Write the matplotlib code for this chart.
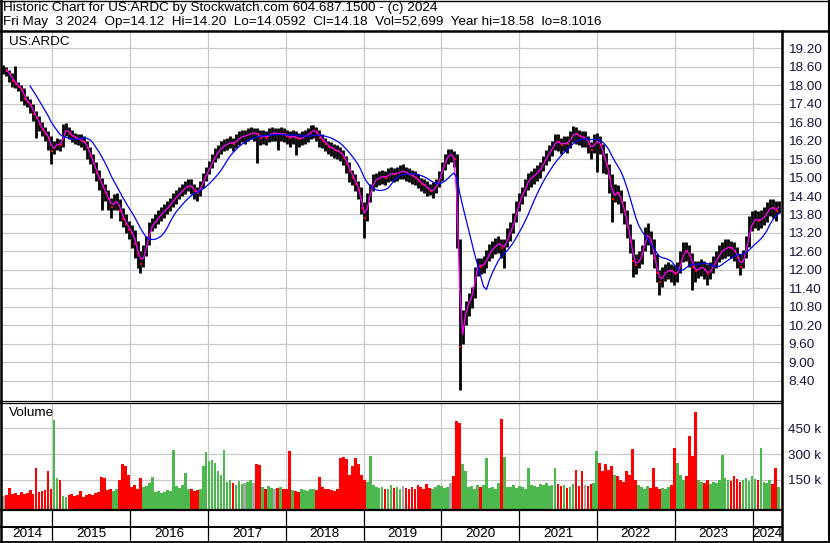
import numpy as np
import pandas as pd
import matplotlib
matplotlib.use("Agg")
import matplotlib.pyplot as plt

# US:ARDC, biweekly bars (about 10 sessions each)
cl = [18.55, 18.45, 18.35, 18.15, 18.05, 17.95, 17.85, 17.55, 17.45, 17.35,
      17.05, 16.95, 16.70, 16.55, 16.40, 16.30, 15.85, 16.05, 16.10, 16.05,
      16.45, 16.60, 16.40, 16.35, 16.30, 16.25, 16.20, 16.15, 15.95, 15.70,
      15.45, 15.15, 14.95, 14.70, 14.50, 14.30, 14.05, 14.20, 14.25, 13.90,
      13.65, 13.50, 13.30, 13.20, 12.85, 12.50, 12.20, 12.55, 12.90, 13.35,
      13.50, 13.60, 13.75, 13.85, 13.95, 14.05, 14.15, 14.30, 14.40, 14.50,
      14.60, 14.70, 14.75, 14.70, 14.55, 14.50, 14.70, 14.95, 15.15, 15.35,
      15.55, 15.75, 15.85, 16.00, 16.05, 16.10, 16.15, 16.10, 16.20, 16.30,
      16.35, 16.35, 16.40, 16.45, 16.45, 16.40, 16.30, 16.35, 16.30, 16.40,
      16.45, 16.45, 16.40, 16.45, 16.40, 16.35, 16.30, 16.35, 16.30, 16.25,
      16.30, 16.35, 16.40, 16.50, 16.55, 16.45, 16.30, 16.20, 16.10, 16.00,
      15.95, 15.90, 15.85, 15.80, 15.65, 15.45, 15.20, 15.00, 14.80, 14.60,
      14.00, 13.70, 14.25, 14.60, 14.90, 14.95, 15.00, 15.05, 15.00, 15.10,
      15.15, 15.10, 15.15, 15.20, 15.20, 15.15, 15.10, 15.05, 15.00, 14.90,
      14.80, 14.75, 14.65, 14.55, 14.60, 14.75, 14.95, 15.30, 15.55, 15.75,
      15.75, 15.60, 13.40, 9.50, 10.30, 10.80, 11.00, 11.20, 11.90, 12.20,
      12.10, 12.20, 12.40, 12.60, 12.70, 12.80, 12.90, 12.70, 12.80, 13.10,
      13.30, 13.60, 14.00, 14.30, 14.50, 14.75, 14.95, 15.00, 15.10, 15.20,
      15.30, 15.50, 15.70, 15.85, 16.00, 16.20, 16.15, 16.05, 16.15, 16.10,
      16.30, 16.45, 16.40, 16.35, 16.30, 16.30, 16.10, 15.90, 16.15, 16.20,
      16.05, 15.70, 15.40, 15.00, 14.30, 14.55, 14.50, 14.20, 13.90, 13.40,
      12.90, 12.30, 12.15, 12.35, 12.50, 13.10, 13.15, 12.90, 12.40, 11.90,
      11.60, 11.85, 11.95, 12.00, 11.95, 11.85, 11.95, 12.30, 12.65, 12.60,
      12.45, 12.10, 11.95, 12.05, 12.10, 12.00, 11.85, 12.00, 12.20, 12.35,
      12.55, 12.65, 12.70, 12.75, 12.70, 12.60, 12.40, 12.10, 12.40, 12.80,
      13.30, 13.60, 13.65, 13.60, 13.65, 13.75, 13.90, 14.05, 14.00, 13.90,
      14.18]

hi = [18.65, 18.60, 18.50, 18.40, 18.62, 18.10, 18.00, 17.90, 17.65, 17.55,
      17.40, 17.15, 17.00, 16.80, 16.65, 16.50, 16.35, 16.20, 16.30, 16.25,
      16.75, 16.76, 16.65, 16.55, 16.45, 16.40, 16.40, 16.35, 16.20, 16.00,
      15.75, 15.50, 15.25, 15.00, 14.80, 14.60, 14.35, 14.45, 14.50, 14.30,
      14.00, 13.80, 13.60, 13.45, 13.30, 12.95, 12.60, 12.80, 13.10, 13.55,
      13.70, 13.80, 13.95, 14.05, 14.15, 14.25, 14.35, 14.50, 14.60, 14.70,
      14.80, 14.90, 14.95, 14.95, 14.80, 14.70, 14.90, 15.15, 15.35, 15.55,
      15.75, 15.95, 16.05, 16.20, 16.25, 16.30, 16.35, 16.30, 16.40, 16.50,
      16.55, 16.55, 16.60, 16.65, 16.62, 16.60, 16.55, 16.55, 16.50, 16.60,
      16.65, 16.62, 16.60, 16.65, 16.60, 16.55, 16.50, 16.55, 16.50, 16.45,
      16.50, 16.55, 16.60, 16.70, 16.72, 16.65, 16.55, 16.40, 16.30, 16.20,
      16.15, 16.10, 16.05, 16.00, 15.90, 15.70, 15.50, 15.25, 15.10, 14.90,
      14.70, 14.20, 14.50, 14.80, 15.10, 15.15, 15.20, 15.25, 15.20, 15.30,
      15.35, 15.30, 15.35, 15.40, 15.45, 15.35, 15.30, 15.25, 15.20, 15.10,
      15.00, 14.95, 14.90, 14.80, 14.85, 14.95, 15.20, 15.50, 15.75, 15.92,
      15.92, 15.85, 15.75, 13.00, 10.70, 11.00, 11.25, 11.45, 12.10, 12.40,
      12.40, 12.45, 12.65, 12.85, 12.95, 13.05, 13.10, 13.00, 13.00, 13.35,
      13.55, 13.85, 14.25, 14.50, 14.70, 14.95, 15.15, 15.20, 15.30, 15.40,
      15.50, 15.70, 15.90, 16.05, 16.20, 16.40, 16.40, 16.30, 16.35, 16.35,
      16.50, 16.66, 16.65, 16.55, 16.50, 16.50, 16.35, 16.15, 16.40, 16.44,
      16.35, 16.10, 15.80, 15.45, 15.10, 14.80, 14.75, 14.60, 14.25, 13.95,
      13.50, 13.00, 12.50, 12.60, 12.80, 13.40, 13.51, 13.25, 13.00, 12.50,
      12.00, 12.10, 12.20, 12.25, 12.20, 12.15, 12.25, 12.60, 12.92, 12.90,
      12.80, 12.55, 12.30, 12.30, 12.35, 12.30, 12.20, 12.25, 12.45, 12.60,
      12.80, 12.90, 12.99, 13.00, 12.95, 12.90, 12.75, 12.50, 12.65, 13.10,
      13.75, 13.90, 13.95, 13.90, 13.95, 14.05, 14.20, 14.29, 14.30, 14.25,
      14.25]

lo = [18.35, 18.30, 18.10, 17.95, 17.90, 17.80, 17.50, 17.35, 17.30, 17.10,
      16.85, 16.30, 16.50, 16.35, 16.20, 15.90, 15.45, 15.75, 15.90, 15.85,
      16.00, 16.35, 16.25, 16.15, 16.10, 16.05, 16.00, 15.90, 15.60, 15.45,
      15.15, 14.90, 14.60, 13.95, 14.25, 13.95, 13.70, 13.95, 13.95, 13.60,
      13.40, 13.20, 13.00, 12.70, 12.40, 12.05, 11.89, 12.10, 12.45, 12.80,
      13.25, 13.35, 13.50, 13.60, 13.70, 13.80, 13.90, 14.05, 14.15, 14.30,
      14.40, 14.45, 14.55, 14.45, 14.30, 14.25, 14.40, 14.65, 14.90, 15.10,
      15.30, 15.50, 15.65, 15.75, 15.85, 15.90, 15.95, 15.85, 15.95, 16.05,
      16.15, 16.10, 16.20, 16.25, 16.20, 15.46, 16.05, 16.10, 16.05, 16.15,
      16.20, 16.20, 15.90, 16.20, 16.15, 16.10, 16.00, 16.10, 15.73, 16.00,
      16.05, 16.10, 16.15, 16.25, 16.30, 16.20, 16.00, 15.95, 15.85, 15.75,
      15.70, 15.65, 15.60, 15.55, 15.40, 15.15, 14.85, 14.75, 14.55, 14.30,
      13.80, 13.03, 13.60, 14.20, 14.55, 14.70, 14.75, 14.80, 14.75, 14.85,
      14.90, 14.85, 14.90, 14.95, 14.95, 14.90, 14.85, 14.80, 14.75, 14.65,
      14.55, 14.50, 14.40, 14.43, 14.35, 14.50, 14.70, 14.90, 15.25, 15.45,
      15.50, 15.35, 12.70, 8.10, 9.60, 10.20, 10.50, 10.75, 11.10, 11.80,
      11.85, 11.90, 12.05, 12.30, 12.40, 12.50, 12.55, 12.40, 12.05, 12.75,
      12.95, 13.20, 13.55, 13.90, 14.15, 14.40, 14.60, 14.70, 14.80, 14.90,
      15.00, 15.20, 15.40, 15.55, 15.70, 15.90, 15.85, 15.75, 15.85, 15.80,
      15.95, 16.15, 16.10, 16.05, 16.00, 16.00, 15.80, 15.60, 15.80, 15.19,
      15.75, 15.14, 15.10, 14.50, 13.57, 14.20, 14.15, 13.85, 13.50, 13.05,
      12.55, 11.78, 11.85, 12.05, 12.20, 12.60, 12.80, 12.50, 12.05, 11.60,
      11.18, 11.45, 11.65, 11.70, 11.60, 11.50, 11.60, 11.90, 12.25, 12.30,
      12.10, 11.34, 11.60, 11.75, 11.80, 11.70, 11.51, 11.70, 11.90, 12.05,
      12.25, 12.35, 12.40, 12.45, 12.40, 12.30, 12.05, 11.83, 12.05, 12.40,
      12.75, 13.25, 13.35, 13.30, 13.35, 13.45, 13.55, 13.75, 13.70, 13.60,
      13.85]

# volume, thousands of shares
vol = [55, 60, 105, 70, 75, 65, 80, 70, 75, 90,
       70, 220, 80, 85, 90, 200, 95, 500, 160, 150,
       55, 50, 60, 70, 55, 60, 85, 50, 65, 70,
       60, 75, 80, 165, 160, 90, 95, 85, 95, 150,
       245, 230, 180, 110, 120, 100, 160, 110, 115, 130,
       165, 80, 85, 75, 80, 90, 85, 325, 115, 105,
       120, 190, 95, 100, 85, 90, 95, 230, 310, 260,
       265, 250, 200, 180, 325, 140, 150, 130, 120, 145,
       125, 135, 140, 150, 130, 240, 235, 110, 100, 115,
       105, 95, 105, 110, 100, 95, 320, 90, 85, 80,
       95, 90, 85, 100, 95, 90, 165, 110, 95, 100,
       90, 85, 100, 280, 285, 270, 180, 230, 275, 240,
       180, 150, 140, 290, 120, 110, 105, 110, 100, 95,
       120, 105, 110, 100, 115, 105, 100, 110, 95, 120,
       110, 100, 125, 105, 100, 110, 120, 115, 105, 110,
       130, 170, 495, 480, 240, 200, 110, 115, 100, 120,
       110, 120, 275, 105, 110, 100, 130, 505, 283, 110,
       110, 120, 105, 115, 110, 100, 218, 120, 115, 110,
       125, 120, 130, 115, 120, 218, 125, 115, 120, 105,
       110, 125, 210, 115, 200, 120, 115, 125, 130, 320,
       250, 200, 245, 210, 230, 180, 170, 150, 140, 200,
       180, 330, 150, 120, 110, 100, 115, 105, 222, 110,
       100, 105, 95, 110, 120, 335, 250, 180, 150, 170,
       405, 290, 545, 150, 140, 130, 150, 125, 140, 135,
       150, 295, 160, 150, 145, 170, 155, 140, 150, 160,
       145, 170, 155, 150, 335, 140, 130, 150, 125, 218,
       110]

precio_ticks = np.arange(8.40, 19.21, 0.60)
vol_ticks = [150, 300, 450]
titulo1 = "Historic Chart for US:ARDC by Stockwatch.com 604.687.1500 - (c) 2024"
titulo2 = ("Fri May  3 2024  Op=14.12  Hi=14.20  Lo=14.0592  Cl=14.18  "
           "Vol=52,699  Year hi=18.58  lo=8.1016")

n = min(len(cl), len(hi), len(lo), len(vol))
cl = np.array(cl[:n]); hi = np.array(hi[:n]); lo = np.array(lo[:n]); vol = np.array(vol[:n])
fechas = pd.date_range(end="2024-05-03", periods=n, freq="14D")

ma_corta = pd.Series(cl).rolling(2).mean().values    # ~20 sessions
ma_larga = pd.Series(cl).rolling(10).mean().values   # ~100 sessions

prev = np.r_[cl[0], cl[:-1]]
colores = np.where(cl > prev, "#4db84d", np.where(cl < prev, "#ff0000", "#a8a8a8"))
baja = cl < prev

W, H = 830, 543
plt.rcParams['font.family'] = ['Liberation Sans', 'DejaVu Sans']
fig = plt.figure(figsize=(W / 100, H / 100), dpi=100)

def caja(x0, y0, x1, y1):
    return [x0 / W, 1 - y1 / H, (x1 - x0) / W, (y1 - y0) / H]

xmin, xmax = pd.Timestamp("2014-05-10"), pd.Timestamp("2024-05-18")
anios = pd.date_range("2015-01-01", "2024-01-01", freq="YS")
gris = "#c8c8c8"
txt = "#15153a"
fs = 9.7

# --- price panel
ax1 = fig.add_axes(caja(2, 32, 782, 400))
ax1.set_xlim(xmin, xmax)
ax1.set_ylim(7.77, 19.73)
for a in anios:
    ax1.axvline(a, color=gris, lw=0.9, zorder=0)
for t in precio_ticks:
    ax1.axhline(t, color=gris, lw=0.9, zorder=0)
ax1.vlines(fechas, lo, hi, color="black", lw=2.0, zorder=2)
ax1.scatter(fechas[baja] + pd.Timedelta(days=4), cl[baja], marker="s", s=4,
            color="red", lw=0, zorder=3)
ax1.plot(fechas, ma_corta, color="#ff00ff", lw=0.9, zorder=4)
ax1.plot(fechas, ma_larga, color="#0000ff", lw=0.9, zorder=5)
ax1.yaxis.tick_right()
ax1.set_yticks(precio_ticks)
ax1.set_yticklabels([f"{t:.2f}" for t in precio_ticks])
ax1.tick_params(axis="y", length=0, pad=4.3, labelsize=fs, labelcolor=txt)
ax1.tick_params(axis="x", length=0, labelbottom=False)
for s in ax1.spines.values():
    s.set_visible(False)
ax1.text(7 / 780, 1 - 10 / 368, "US:ARDC", transform=ax1.transAxes,
         fontsize=fs, va="center", ha="left", color="black")

# --- volume panel
vbase = -19
ax2 = fig.add_axes(caja(2, 403, 782, 509))
ax2.set_xlim(xmin, xmax)
ax2.set_ylim(vbase, 597)
for a in anios:
    ax2.axvline(a, color=gris, lw=0.9, zorder=0)
for t in vol_ticks:
    ax2.axhline(t, color=gris, lw=0.9, zorder=0)
ax2.bar(fechas, vol - vbase, bottom=vbase, width=13, color=colores, lw=0, zorder=2)
ax2.yaxis.tick_right()
ax2.set_yticks(vol_ticks)
ax2.set_yticklabels([f"{t} k" for t in vol_ticks])
ax2.tick_params(axis="y", length=0, pad=4.3, labelsize=fs, labelcolor=txt)
ax2.tick_params(axis="x", length=0, labelbottom=False)
for s in ax2.spines.values():
    s.set_visible(False)
ax2.text(7 / 780, 1 - 10 / 106, "Volume", transform=ax2.transAxes,
         fontsize=fs, va="center", ha="left", color="black")

# --- year strip
ax3 = fig.add_axes(caja(2, 510, 782, 541))
ax3.set_xlim(xmin, xmax)
ax3.set_ylim(0, 1)
ax3.axis("off")
for a in anios:
    ax3.axvline(a, color="black", lw=0.9)
limites = [xmin] + list(anios) + [xmax]
for a0, a1 in zip(limites[:-1], limites[1:]):
    medio = a0 + (a1 - a0) / 2
    ax3.text(medio, 0.24, str(a0.year), ha="center", va="center",
             fontsize=fs, color="black")

# --- frame lines (pixel coordinates)
fr = fig.add_axes([0, 0, 1, 1])
fr.set_xlim(0, W)
fr.set_ylim(H, 0)
fr.axis("off")
k = "black"
fr.plot([0, W], [0.5, 0.5], color=k, lw=1)
fr.plot([0, W], [31, 31], color=k, lw=1.8)
fr.plot([1, 1], [0, H], color=k, lw=1.8)
fr.plot([W - 1.5, W - 1.5], [0, H], color=k, lw=1.5)
fr.plot([0, W], [541.5, 541.5], color=k, lw=1.3)
fr.plot([782, 782], [31, H], color=k, lw=1.8)
fr.plot([0, 782], [400.5, 400.5], color=k, lw=0.9)
fr.plot([0, 782], [403, 403], color=k, lw=0.9)
fr.plot([0, 782], [509.8, 509.8], color=k, lw=1.6)
fr.plot([0, 782], [526.5, 526.5], color=k, lw=1.4)

fig.text(3 / W, 1 - 8.5 / H, titulo1, fontsize=fs, va="center", ha="left")
fig.text(3 / W, 1 - 22 / H, titulo2, fontsize=fs, va="center", ha="left")

fig.savefig("out.png", dpi=100)
